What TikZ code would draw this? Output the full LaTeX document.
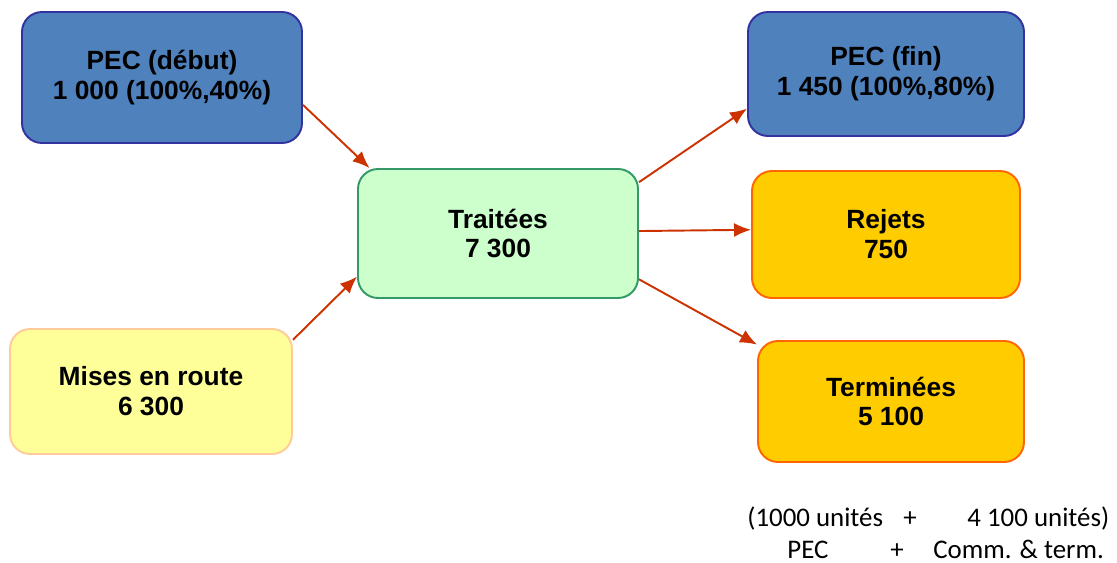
\documentclass[tikz,border=0pt]{standalone}
\usepackage{fontspec}
\setmainfont{Liberation Sans}
\newfontfamily\calib{Carlito}
\usetikzlibrary{arrows.meta}
\definecolor{pecfill}{HTML}{4F81BD}
\definecolor{pecdraw}{HTML}{3333A0}
\definecolor{trtfill}{HTML}{CCFFCC}
\definecolor{trtdraw}{HTML}{339966}
\definecolor{misfill}{HTML}{FFFF99}
\definecolor{misdraw}{HTML}{FFCC99}
\definecolor{outfill}{HTML}{FFCC00}
\definecolor{outdraw}{HTML}{FF6600}
\definecolor{flowcol}{HTML}{CC3300}
\tikzstyle{box}=[rectangle,rounded corners=0.4cm,line width=1.1pt,align=center,
  font=\fontsize{15}{17}\selectfont\bfseries,inner sep=0pt]
\tikzstyle{pecbox}=[box,fill=pecfill,draw=pecdraw]
\tikzstyle{trtbox}=[box,fill=trtfill,draw=trtdraw]
\tikzstyle{misbox}=[box,fill=misfill,draw=misdraw]
\tikzstyle{outbox}=[box,fill=outfill,draw=outdraw]
\tikzstyle{flow}=[-{Latex[length=3.4mm,width=2.8mm]},line width=1.1pt,flowcol]
\tikzstyle{note}=[font=\calib\fontsize{15.3}{17}\selectfont,inner sep=0pt,anchor=base west]

\begin{document}
\begin{tikzpicture}
  \useasboundingbox (0,0) rectangle (22.34,-11.26);

  % BOXES
  \node[pecbox,minimum width=5.6cm,minimum height=2.62cm] (debut) at (3.24,-1.55) {PEC (début)\\1 000 (100\%,40\%)};
  \node[misbox,minimum width=5.64cm,minimum height=2.5cm] (mises) at (3.02,-7.83) {Mises en route\\6 300};
  \node[trtbox,minimum width=5.6cm,minimum height=2.58cm] (traitees) at (9.96,-4.67) {Traitées\\7 300};
  \node[pecbox,minimum width=5.52cm,minimum height=2.48cm] (fin) at (17.72,-1.48) {PEC (fin)\\1 450 (100\%,80\%)};
  \node[outbox,minimum width=5.36cm,minimum height=2.54cm] (rejets) at (17.72,-4.69) {Rejets\\750};
  \node[outbox,minimum width=5.32cm,minimum height=2.42cm] (termin) at (17.82,-8.03) {Terminées\\5 100};

  % ARROWS
  \draw[flow] (debut.-11) -- (traitees.153);
  \draw[flow] (mises.20) -- (traitees.197);
  \draw[flow] (traitees.20) -- (fin.194);
  \draw[flow] (traitees.1) -- (rejets.178);
  \draw[flow] (traitees.-18) -- (termin.157);

  % DETAIL
  \node[note] (u1) at (14.94,-10.52) {(1000 unités};
  \node[note,anchor=base] (p1) at (18.2,-10.52) {+};
  \node[note] (u2) at (19.34,-10.52) {4 100 unités)};
  \node[note] (l1) at (15.74,-11.16) {PEC};
  \node[note,anchor=base] (p2) at (17.94,-11.16) {+};
  \node[note] (l2) at (18.66,-11.16) {Comm. \& term.};
\end{tikzpicture}
\end{document}
